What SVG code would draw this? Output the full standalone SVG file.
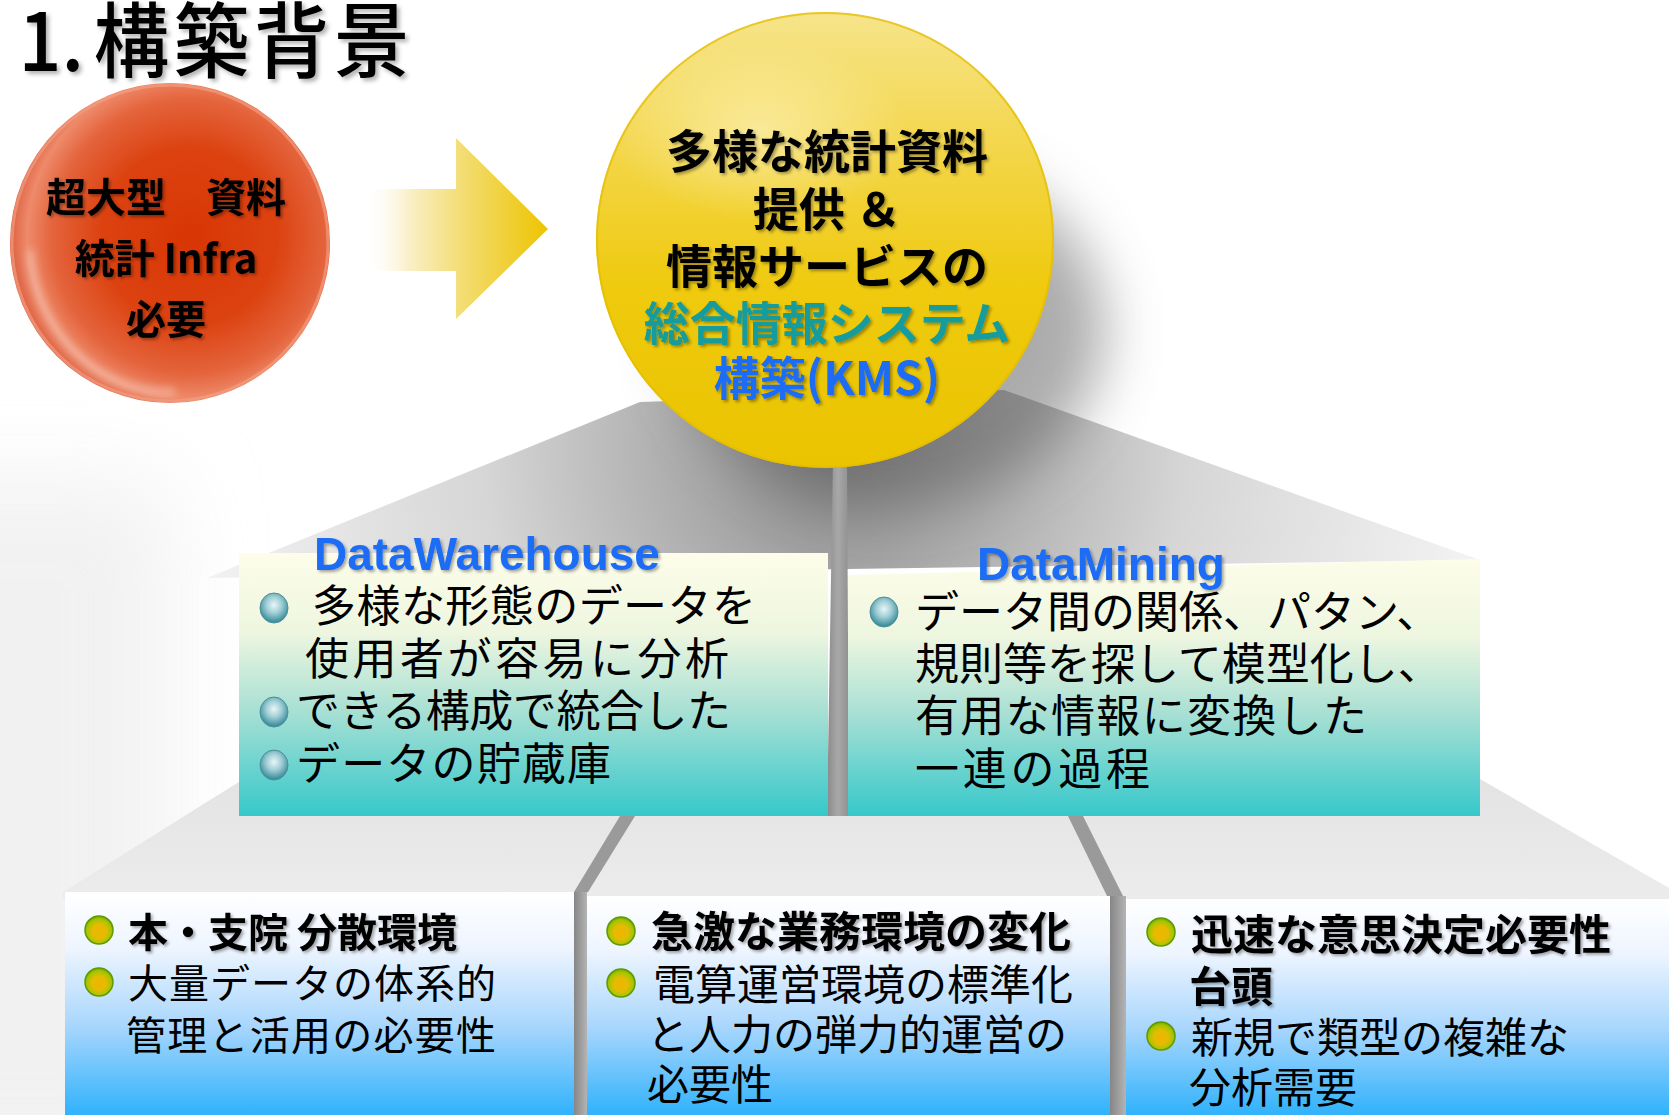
<svg xmlns="http://www.w3.org/2000/svg" width="1669" height="1115" viewBox="0 0 1669 1115">
  <defs>
    <style>
      .cj { font-family: 'Noto Sans CJK JP', 'Noto Sans CJK SC', sans-serif; }
      .lat { font-family: 'Liberation Sans', Arial, sans-serif; font-weight: 700; }
      .b { font-weight: 700; }
      .box-text { font-size: 44px; fill: #000; }
      .low-text { font-size: 40px; fill: #000; }
      .ball-text { font-size: 46px; font-weight: 700; text-anchor: middle; }
      .head { font-size: 46px; fill: #1a6cf6; }
      .teal-ball { fill: url(#tealBead); stroke: #4a8f9a; stroke-width: 1; }
      .lime-ball { fill: url(#limeBead); stroke: #5f9a00; stroke-width: 1.5; }
      .post { fill: #9a9a9a; }
    </style>

    <!-- soft text shadows -->
    <filter id="txtShadow" x="-10%" y="-20%" width="130%" height="150%">
      <feDropShadow dx="2" dy="2" stdDeviation="1.5" flood-color="#000" flood-opacity="0.35"/>
    </filter>
    <filter id="titleShadow" x="-10%" y="-20%" width="130%" height="150%">
      <feDropShadow dx="3" dy="3" stdDeviation="2" flood-color="#000" flood-opacity="0.3"/>
    </filter>
    <filter id="blurBig" x="-50%" y="-50%" width="200%" height="200%">
      <feGaussianBlur stdDeviation="28"/>
    </filter>
    <filter id="blurHaze" x="-50%" y="-50%" width="200%" height="200%">
      <feGaussianBlur stdDeviation="45"/>
    </filter>
    <filter id="blurSoft" x="-20%" y="-20%" width="140%" height="140%">
      <feGaussianBlur stdDeviation="4"/>
    </filter>

    <!-- spheres -->
    <radialGradient id="redBall" cx="0.56" cy="0.48" r="0.55">
      <stop offset="0" stop-color="#d83604"/>
      <stop offset="0.5" stop-color="#dc4210"/>
      <stop offset="0.78" stop-color="#e4643c"/>
      <stop offset="0.92" stop-color="#ee8a6a"/>
      <stop offset="1" stop-color="#e06848"/>
    </radialGradient>
    <linearGradient id="yellowBall" x1="0" y1="0" x2="0" y2="1">
      <stop offset="0" stop-color="#f6e48a"/>
      <stop offset="0.3" stop-color="#f3d64a"/>
      <stop offset="0.6" stop-color="#efca0e"/>
      <stop offset="1" stop-color="#eac400"/>
    </linearGradient>
    <radialGradient id="yellowHi" cx="0.5" cy="0.5" r="0.5">
      <stop offset="0" stop-color="#fff8d0" stop-opacity="0.55"/>
      <stop offset="1" stop-color="#fff8d0" stop-opacity="0"/>
    </radialGradient>

    <!-- arrow -->
    <linearGradient id="arrowFill" gradientUnits="userSpaceOnUse" x1="362" y1="0" x2="548" y2="0">
      <stop offset="0" stop-color="#ffffff" stop-opacity="0"/>
      <stop offset="0.25" stop-color="#f9f0c8"/>
      <stop offset="0.55" stop-color="#f3dc70"/>
      <stop offset="1" stop-color="#edc400"/>
    </linearGradient>

    <!-- roof planes -->
    <radialGradient id="roofTop" gradientUnits="userSpaceOnUse" cx="835" cy="450" r="640">
      <stop offset="0" stop-color="#858585"/>
      <stop offset="0.2" stop-color="#a6a6a6"/>
      <stop offset="0.55" stop-color="#d6d6d6"/>
      <stop offset="1" stop-color="#f2f2f2"/>
    </radialGradient>
    <linearGradient id="roofLow" x1="0" y1="0" x2="0" y2="1">
      <stop offset="0" stop-color="#e2e2e2"/>
      <stop offset="1" stop-color="#ececec"/>
    </linearGradient>
    <linearGradient id="stemFill" x1="0" y1="0" x2="1" y2="0">
      <stop offset="0" stop-color="#8a8a8a"/>
      <stop offset="0.5" stop-color="#a8a8a8"/>
      <stop offset="1" stop-color="#909090"/>
    </linearGradient>
    <linearGradient id="sideFill" x1="0" y1="0" x2="1" y2="0">
      <stop offset="0" stop-color="#868686"/>
      <stop offset="1" stop-color="#b4b4b4"/>
    </linearGradient>

    <!-- box faces -->
    <linearGradient id="tealFace" x1="0" y1="0" x2="0" y2="1">
      <stop offset="0" stop-color="#fdfde9"/>
      <stop offset="0.3" stop-color="#eef6e0"/>
      <stop offset="0.6" stop-color="#a8e0d4"/>
      <stop offset="1" stop-color="#36c8ca"/>
    </linearGradient>
    <linearGradient id="blueFace" x1="0" y1="0" x2="0" y2="1">
      <stop offset="0" stop-color="#ffffff"/>
      <stop offset="0.25" stop-color="#eef5ff"/>
      <stop offset="0.6" stop-color="#a8d6fd"/>
      <stop offset="1" stop-color="#30b2fb"/>
    </linearGradient>

    <!-- bullet beads -->
    <radialGradient id="tealBead" cx="0.5" cy="0.4" r="0.6">
      <stop offset="0" stop-color="#e8f6f8"/>
      <stop offset="0.45" stop-color="#a2cfd6"/>
      <stop offset="1" stop-color="#2f8695"/>
    </radialGradient>
    <radialGradient id="limeBead" cx="0.5" cy="0.55" r="0.55">
      <stop offset="0" stop-color="#f0b400"/>
      <stop offset="0.45" stop-color="#e4bc00"/>
      <stop offset="0.8" stop-color="#a6c400"/>
      <stop offset="1" stop-color="#70a800"/>
    </radialGradient>
  </defs>

  <!-- page -->
  <rect width="1669" height="1115" fill="#ffffff"/>
  <rect x="-160" y="480" width="330" height="700" fill="#e6e6e6" opacity="0.55" filter="url(#blurHaze)"/>

  <!-- title -->
  <g id="title" class="cj" font-size="82" font-weight="500" fill="#000" filter="url(#titleShadow)">
    <text transform="scale(0.92 1)" x="20" y="71">1.</text>
    <text transform="scale(0.92 1)" x="102" y="71" letter-spacing="5">構築背景</text>
  </g>

  <!-- receding planes behind the boxes -->
  <g id="planes">
    <polygon points="63,892 274,760 1447,760 1669,888 1669,900 63,900" fill="url(#roofLow)"/>
    <polygon points="640,402 1004,390 1480,560 207,578" fill="url(#roofTop)"/>
    <ellipse cx="890" cy="330" rx="215" ry="175" fill="#5a5a5a" opacity="0.5" filter="url(#blurBig)"/>
  </g>

  <!-- connectors: stem and legs -->
  <g id="connectors">
    <polygon points="833,460 847,460 849,816 827,816" fill="url(#stemFill)"/>
    <polygon class="post" points="620,816 635,816 588,892 574,892"/>
    <polygon class="post" points="1068,816 1083,816 1124,898 1108,898"/>
    <rect x="574" y="892" width="13" height="223" fill="url(#sideFill)"/>
    <rect x="1110" y="896" width="16" height="219" fill="url(#sideFill)"/>
  </g>

  <!-- red sphere -->
  <g id="node-infra">
    <circle cx="170" cy="243" r="160" fill="url(#redBall)"/>
    <path d="M 30 250 A 140 150 0 0 0 175 392" fill="none" stroke="#ffffff" stroke-width="6" opacity="0.45" filter="url(#blurSoft)"/>
    <circle cx="170" cy="243" r="158" fill="none" stroke="#f4a488" stroke-width="3" opacity="0.6"/>
    <g class="cj b" font-size="40" text-anchor="middle" fill="#000" filter="url(#txtShadow)">
      <text x="166" y="212">超大型　資料</text>
      <text x="166" y="273">統計 Infra</text>
      <text x="166" y="334">必要</text>
    </g>
  </g>

  <!-- arrow -->
  <g id="arrow">
    <polygon points="362,189 456,189 456,138 548,229 456,319 456,271 362,271" fill="url(#arrowFill)"/>
  </g>

  <!-- yellow sphere -->
  <g id="node-kms">
    <ellipse cx="825" cy="240" rx="229" ry="228" fill="url(#yellowBall)"/>
    <ellipse cx="760" cy="130" rx="150" ry="90" fill="url(#yellowHi)"/>
    <ellipse cx="825" cy="240" rx="228" ry="227" fill="none" stroke="#e2bc00" stroke-width="2" opacity="0.7"/>
    <g class="cj ball-text" filter="url(#txtShadow)">
      <text x="827" y="168" fill="#000">多様な統計資料</text>
      <text x="827" y="226" fill="#000">提供 ＆</text>
      <text x="827" y="283" fill="#000">情報サービスの</text>
      <text x="827" y="340" fill="#129c9c">総合情報システム</text>
      <text x="827" y="395" fill="#1a6cf6">構築(KMS)</text>
    </g>
  </g>

  <!-- DataWarehouse box -->
  <g id="node-dw">
    <rect x="239" y="553" width="589" height="263" fill="url(#tealFace)"/>
    <text class="lat head" x="314" y="570" filter="url(#txtShadow)">DataWarehouse</text>
    <ellipse class="teal-ball" cx="274" cy="608" rx="14" ry="15"/>
    <ellipse class="teal-ball" cx="274" cy="712" rx="14" ry="15"/>
    <ellipse class="teal-ball" cx="274" cy="765" rx="14" ry="15"/>
    <g class="cj box-text">
      <text x="312" y="622" textLength="444" lengthAdjust="spacing">多様な形態のデータを</text>
      <text x="305" y="675" textLength="424" lengthAdjust="spacing">使用者が容易に分析</text>
      <text x="296" y="727" textLength="435" lengthAdjust="spacing">できる構成で統合した</text>
      <text x="296" y="780" textLength="315" lengthAdjust="spacing">データの貯蔵庫</text>
    </g>
  </g>

  <!-- DataMining box -->
  <g id="node-dm">
    <polygon points="848,575 1480,559 1480,816 848,816" fill="url(#tealFace)"/>
    <text class="lat head" x="977" y="580" filter="url(#txtShadow)">DataMining</text>
    <ellipse class="teal-ball" cx="884" cy="612" rx="14" ry="15"/>
    <g class="cj box-text">
      <text x="915" y="628">データ間の関係、パタン、</text>
      <text x="915" y="680">規則等を探して模型化し、</text>
      <text x="915" y="732" textLength="452" lengthAdjust="spacing">有用な情報に変換した</text>
      <text x="915" y="785" textLength="235" lengthAdjust="spacing">一連の過程</text>
    </g>
  </g>

  <!-- lower boxes -->
  <g id="node-env">
    <rect x="65" y="892" width="509" height="223" fill="url(#blueFace)"/>
    <circle class="lime-ball" cx="99" cy="930" r="14"/>
    <circle class="lime-ball" cx="99" cy="982" r="14"/>
    <g class="cj low-text">
      <text class="b" x="128" y="947" filter="url(#txtShadow)">本・支院 分散環境</text>
      <text x="128" y="998" textLength="368" lengthAdjust="spacing">大量データの体系的</text>
      <text x="126" y="1050" textLength="370" lengthAdjust="spacing">管理と活用の必要性</text>
    </g>
  </g>

  <g id="node-biz">
    <rect x="587" y="896" width="523" height="219" fill="url(#blueFace)"/>
    <circle class="lime-ball" cx="621" cy="931" r="14"/>
    <circle class="lime-ball" cx="621" cy="983" r="14"/>
    <g class="cj low-text">
      <text class="b" x="651" y="947" font-size="42" filter="url(#txtShadow)">急激な業務環境の変化</text>
      <text x="653" y="1000" font-size="42">電算運営環境の標準化</text>
      <text x="647" y="1050" font-size="42">と人力の弾力的運営の</text>
      <text x="647" y="1100" font-size="42">必要性</text>
    </g>
  </g>

  <g id="node-decision">
    <rect x="1126" y="899" width="543" height="216" fill="url(#blueFace)"/>
    <circle class="lime-ball" cx="1161" cy="932" r="14"/>
    <circle class="lime-ball" cx="1161" cy="1036" r="14"/>
    <g class="cj low-text">
      <text class="b" x="1191" y="950" font-size="42" filter="url(#txtShadow)">迅速な意思決定必要性</text>
      <text class="b" x="1189" y="1002" font-size="42" filter="url(#txtShadow)">台頭</text>
      <text x="1191" y="1053" font-size="42">新規で類型の複雑な</text>
      <text x="1189" y="1103" font-size="42">分析需要</text>
    </g>
  </g>
</svg>
